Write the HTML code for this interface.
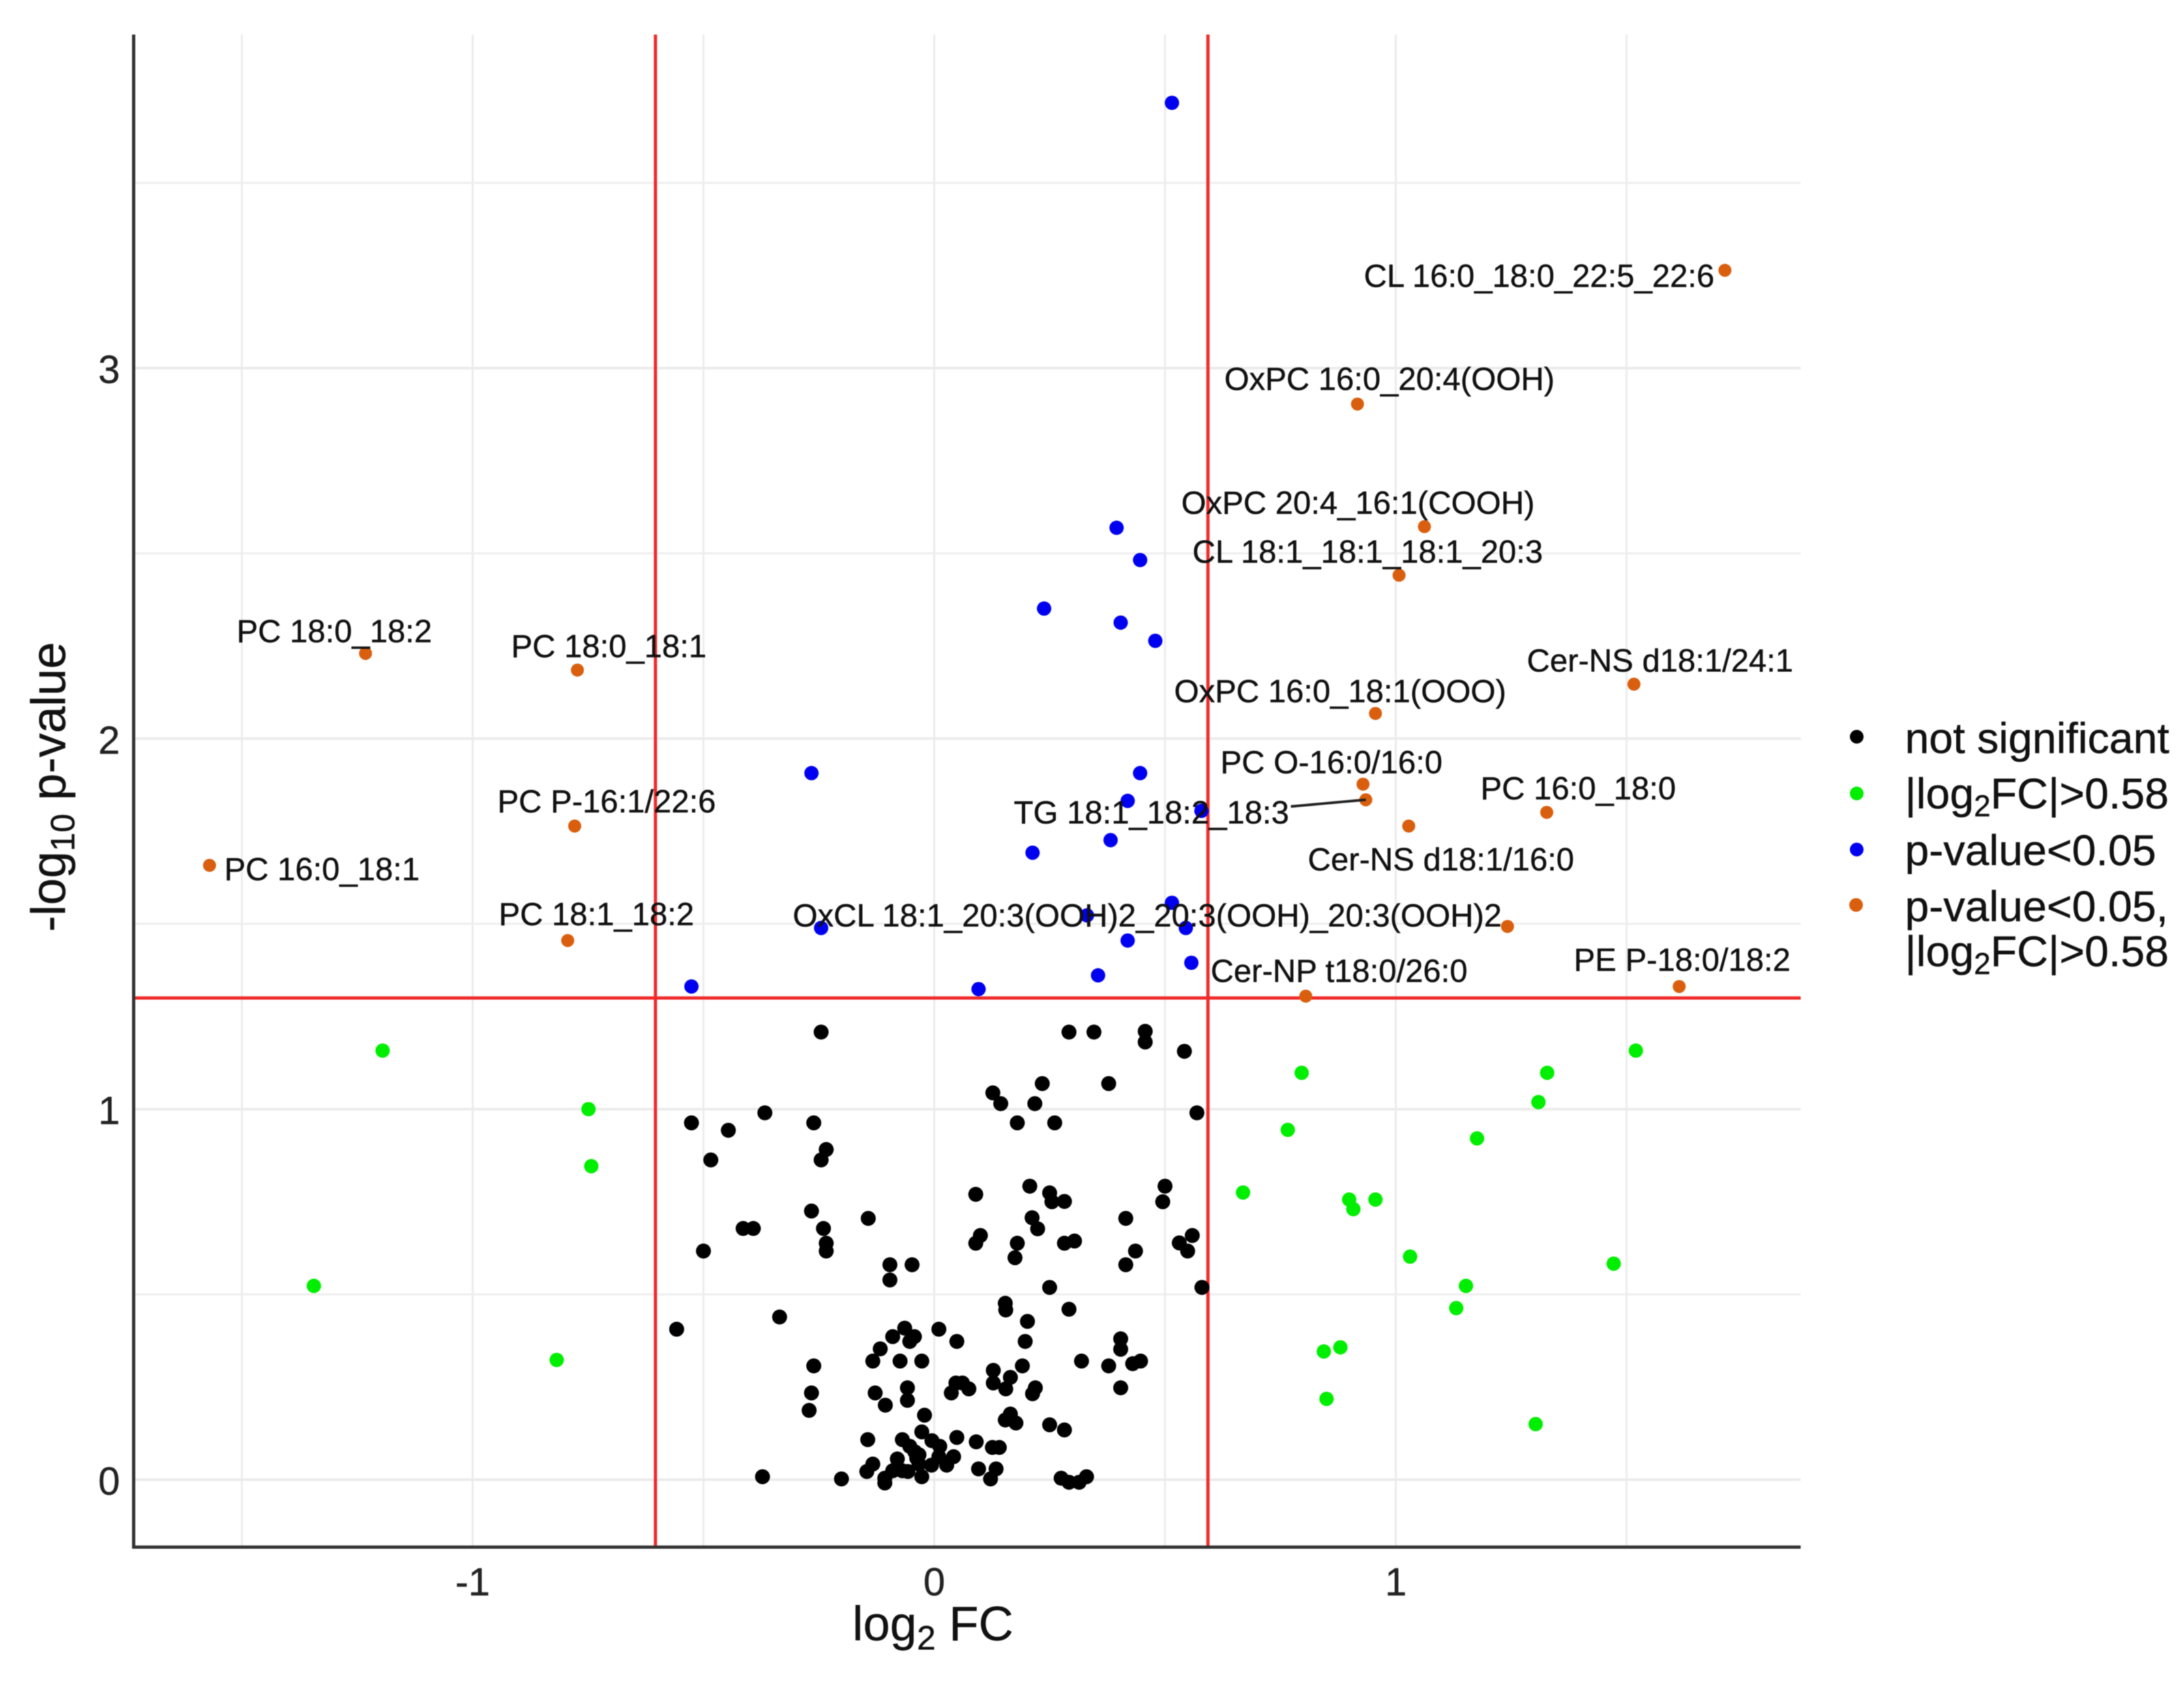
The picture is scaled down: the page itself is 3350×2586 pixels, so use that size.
<!DOCTYPE html>
<html lang="en">
<head>
<meta charset="utf-8">
<title>Volcano plot</title>
<style>
html,body{margin:0;padding:0;background:#fff;}
svg{display:block;font-family:"Liberation Sans",sans-serif;filter:blur(0.7px);}
.lbl{font-size:49px;fill:#111;stroke:#111;stroke-width:0.5px;}
.leg{font-size:66.3px;fill:#111;stroke:#111;stroke-width:0.5px;}
.tick{font-size:60px;fill:#222;stroke:#222;stroke-width:0.4px;}
.title{font-size:74px;fill:#111;stroke:#111;stroke-width:0.4px;}
</style>
</head>
<body>
<svg id="chart" xmlns="http://www.w3.org/2000/svg" width="3350" height="2586" viewBox="0 0 3350 2586">
  <rect x="0" y="0" width="3350" height="2586" fill="#fff"/>
  <g id="grid"></g>
  <g id="thresholds"></g>
  <g id="points"></g>
  <g id="connector"></g>
  <g id="labels">
    <text class="lbl" x="2092" y="440">CL 16:0_18:0_22:5_22:6</text>
    <text class="lbl" x="1878" y="598">OxPC 16:0_20:4(OOH)</text>
    <text class="lbl" x="1812" y="788">OxPC 20:4_16:1(COOH)</text>
    <text class="lbl" x="1829" y="863">CL 18:1_18:1_18:1_20:3</text>
    <text class="lbl" x="2342" y="1030">Cer-NS d18:1/24:1</text>
    <text class="lbl" x="1801" y="1077">OxPC 16:0_18:1(OOO)</text>
    <text class="lbl" x="1872" y="1186">PC O-16:0/16:0</text>
    <text class="lbl" x="2271" y="1226">PC 16:0_18:0</text>
    <text class="lbl" x="1555" y="1263">TG 18:1_18:2_18:3</text>
    <text class="lbl" x="2006" y="1335">Cer-NS d18:1/16:0</text>
    <text class="lbl" x="1216" y="1421">OxCL 18:1_20:3(OOH)2_20:3(OOH)_20:3(OOH)2</text>
    <text class="lbl" x="1857" y="1506">Cer-NP t18:0/26:0</text>
    <text class="lbl" x="2414" y="1489">PE P-18:0/18:2</text>
    <text class="lbl" x="363" y="985">PC 18:0_18:2</text>
    <text class="lbl" x="784" y="1008">PC 18:0_18:1</text>
    <text class="lbl" x="763" y="1246">PC P-16:1/22:6</text>
    <text class="lbl" x="344" y="1350">PC 16:0_18:1</text>
    <text class="lbl" x="765" y="1419">PC 18:1_18:2</text>
  </g>
  <g id="axes">
    <line x1="205" y1="53" x2="205" y2="2375" stroke="#333" stroke-width="5"/>
    <line x1="203" y1="2373" x2="2762" y2="2373" stroke="#333" stroke-width="5"/>
  </g>
  <g id="ticks"></g>
  <text class="title" x="1431" y="2516" text-anchor="middle">log<tspan font-size="52" dy="14">2</tspan><tspan dy="-14"> FC</tspan></text>
  <text class="title" transform="translate(100,1207) rotate(-90)" text-anchor="middle">-log<tspan font-size="52" dy="14">10</tspan><tspan dy="-14"> p-value</tspan></text>
  <g id="legend">
    <circle cx="2848" cy="1130" r="10.5" fill="#000"/>
    <text class="leg" x="2922" y="1155">not significant</text>
    <circle cx="2848" cy="1217" r="10.5" fill="#00ee00"/>
    <text class="leg" x="2922" y="1240">|log<tspan font-size="46" dy="12">2</tspan><tspan dy="-12">FC|&gt;0.58</tspan></text>
    <circle cx="2848" cy="1303" r="10.5" fill="#0000f0"/>
    <text class="leg" x="2922" y="1327">p-value&lt;0.05</text>
    <circle cx="2847" cy="1388" r="10.5" fill="#d95f0e"/>
    <text class="leg" x="2922" y="1413">p-value&lt;0.05,</text>
    <text class="leg" x="2922" y="1482">|log<tspan font-size="46" dy="12">2</tspan><tspan dy="-12">FC|&gt;0.58</tspan></text>
  </g>
</svg>
<script>
var xTickValues = [-1, 0, 1];
var xTickLabels = ['-1', '0', '1'];
var yTickValues = [0, 1, 2, 3];
var yTickLabels = ['0', '1', '2', '3'];
var xMinorGrid = [-1.5, -0.5, 0.5, 1.5];
var yMinorGrid = [0.5, 1.5, 2.5, 3.5];
var foldChangeCutoffs = [-0.604, 0.593];
var pValueCutoff = 1.3;

var blackX = [-0.245,0.292,0.346,0.457,0.457,0.542,0.234,0.378,0.127,0.144,0.218,0.569,-0.367,-0.526,-0.261,0.180,0.261,-0.446,-0.234,-0.245,-0.484,0.090,0.207,0.250,0.255,0.282,0.500,0.495,-0.266,-0.143,0.212,0.415,0.224,-0.414,-0.392,-0.240,0.100,0.090,0.180,0.282,0.304,0.559,0.531,0.436,0.549,-0.234,-0.234,-0.500,0.175,-0.096,-0.048,0.415,-0.096,0.250,0.580,0.154,0.155,0.292,0.202,-0.335,-0.558,-0.064,0.010,-0.090,-0.043,-0.053,0.049,0.197,-0.117,0.404,0.404,-0.133,-0.074,-0.027,0.319,-0.261,0.128,0.191,0.378,0.430,0.447,0.165,-0.058,0.047,0.061,0.075,0.128,0.155,0.219,0.213,0.404,-0.128,-0.266,0.037,-0.058,-0.106,-0.271,-0.021,0.165,0.154,0.177,0.250,0.282,-0.027,-0.144,-0.069,-0.005,0.049,0.012,0.091,0.126,0.141,-0.053,-0.042,0.042,-0.038,-0.080,0.010,-0.033,-0.133,-0.006,0.027,0.096,0.134,-0.146,-0.090,-0.069,-0.057,-0.107,-0.107,-0.027,-0.372,-0.201,0.122,0.275,0.292,0.314,0.330,-0.033];
var blackY = [1.208,1.208,1.208,1.210,1.181,1.156,1.069,1.069,1.044,1.015,1.015,0.990,0.990,0.963,0.963,0.963,0.963,0.943,0.891,0.863,0.863,0.770,0.792,0.774,0.750,0.751,0.792,0.750,0.725,0.705,0.707,0.705,0.677,0.678,0.678,0.678,0.659,0.638,0.638,0.638,0.644,0.659,0.639,0.617,0.617,0.638,0.617,0.617,0.599,0.580,0.580,0.580,0.539,0.519,0.519,0.476,0.458,0.460,0.427,0.439,0.406,0.409,0.406,0.386,0.386,0.373,0.373,0.373,0.353,0.380,0.352,0.320,0.320,0.320,0.320,0.307,0.295,0.307,0.307,0.313,0.320,0.276,0.248,0.261,0.261,0.245,0.261,0.245,0.248,0.232,0.248,0.234,0.234,0.234,0.214,0.201,0.187,0.174,0.177,0.161,0.153,0.148,0.134,0.129,0.108,0.108,0.105,0.114,0.090,0.102,0.087,0.087,0.090,0.075,0.062,0.058,0.056,0.062,0.042,0.042,0.039,0.039,0.029,0.029,0.022,0.024,0.024,0.022,0.004,-0.009,0.008,0.008,0.002,0.002,0.004,-0.007,-0.007,0.008,0.067];

var greenX = [-1.195,-0.749,-0.743,-1.344,-0.818,0.796,0.766,0.669,0.899,0.908,0.956,1.031,1.152,1.131,0.844,0.880,0.850,1.303,1.472,1.176,1.309,1.328,1.520];
var greenY = [1.158,1.000,0.846,0.523,0.323,1.098,0.944,0.775,0.756,0.730,0.756,0.602,0.523,0.463,0.346,0.357,0.218,0.150,0.583,0.921,1.019,1.098,1.158];

var blueX = [0.515,0.395,0.446,0.238,0.404,0.479,-0.266,0.446,0.419,0.579,0.382,0.213,-0.245,0.331,0.515,0.545,0.419,0.557,0.355,-0.526,0.096];
var blueY = [3.716,2.569,2.482,2.351,2.313,2.264,1.907,1.907,1.832,1.805,1.726,1.692,1.489,1.523,1.557,1.489,1.455,1.395,1.361,1.331,1.324];

var orangeX = [1.713,0.917,1.062,1.007,1.516,0.956,0.929,0.935,1.028,1.327,1.242,1.614,0.805,-1.232,-0.773,-0.779,-1.570,-0.794];
var orangeY = [3.264,2.903,2.572,2.441,2.147,2.068,1.877,1.835,1.764,1.801,1.493,1.331,1.305,2.230,2.185,1.764,1.658,1.455];

var NS = 'http://www.w3.org/2000/svg';
function xScale(v) { return 1433 + 708 * v; }
function yScale(v) { return 2269.5 - 568.3 * v; }
var plotLeft = 205, plotRight = 2762, plotTop = 53, plotBottom = 2373;
function make(tag) { return document.createElementNS(NS, tag); }
var gridG = document.getElementById('grid');
var threshG = document.getElementById('thresholds');
var pointsG = document.getElementById('points');
var connG = document.getElementById('connector');
var ticksG = document.getElementById('ticks');
function setLine(el, x1, y1, x2, y2, stroke, w) {
  el.setAttribute('x1', x1); el.setAttribute('y1', y1);
  el.setAttribute('x2', x2); el.setAttribute('y2', y2);
  el.setAttribute('stroke', stroke); el.setAttribute('stroke-width', w);
}
function setDot(el, xv, yv, r, fill) {
  el.setAttribute('cx', xScale(xv).toFixed(1));
  el.setAttribute('cy', yScale(yv).toFixed(1));
  el.setAttribute('r', r);
  el.setAttribute('fill', fill);
}

xMinorGrid.forEach(function (v) {
  var el = make('line');
  
  
  setLine(el, xScale(v), plotTop, xScale(v), plotBottom, '#ececec', 3);
  gridG.appendChild(el);
});
xTickValues.forEach(function (v) {
  var el = make('line');
  
  
  setLine(el, xScale(v), plotTop, xScale(v), plotBottom, '#ebebeb', 3);
  gridG.appendChild(el);
});
yMinorGrid.forEach(function (v) {
  var el = make('line');
  
  
  setLine(el, plotLeft, yScale(v), plotRight, yScale(v), '#eeeeee', 3);
  gridG.appendChild(el);
});
yTickValues.forEach(function (v) {
  var el = make('line');
  
  
  setLine(el, plotLeft, yScale(v), plotRight, yScale(v), '#ebebeb', 4);
  gridG.appendChild(el);
});

foldChangeCutoffs.forEach(function (v) {
  var el = make('line');
  
  
  setLine(el, xScale(v), plotTop, xScale(v), plotBottom, '#f02a2a', 5);
  threshG.appendChild(el);
});
var pLine = make('line');


setLine(pLine, plotLeft, yScale(pValueCutoff), plotRight, yScale(pValueCutoff), '#f02a2a', 5);
threshG.appendChild(pLine);

blackX.forEach(function (v, i) {
  var el = make('circle');
  
  
  setDot(el, v, blackY[i], 11.5, '#000');
  pointsG.appendChild(el);
});
greenX.forEach(function (v, i) {
  var el = make('circle');
  
  
  setDot(el, v, greenY[i], 11, '#00ee00');
  pointsG.appendChild(el);
});
blueX.forEach(function (v, i) {
  var el = make('circle');
  
  
  setDot(el, v, blueY[i], 11, '#0000f0');
  pointsG.appendChild(el);
});
orangeX.forEach(function (v, i) {
  var el = make('circle');
  
  
  setDot(el, v, orangeY[i], 10, '#d95f0e');
  pointsG.appendChild(el);
});

var tgLeader = make('line');


setLine(tgLeader, 1980, 1237, xScale(orangeX[7]), yScale(orangeY[7]), '#222', 4);
connG.appendChild(tgLeader);

xTickValues.forEach(function (v, i) {
  var el = make('text');
  
  
  el.setAttribute('class', 'tick');
  el.setAttribute('x', xScale(v));
  el.setAttribute('y', 2447);
  el.setAttribute('text-anchor', 'middle');
  el.textContent = xTickLabels[i];
  ticksG.appendChild(el);
});
yTickValues.forEach(function (v, i) {
  var el = make('text');
  
  
  el.setAttribute('class', 'tick');
  el.setAttribute('x', 184);
  el.setAttribute('y', yScale(v) + 23);
  el.setAttribute('text-anchor', 'end');
  el.textContent = yTickLabels[i];
  ticksG.appendChild(el);
});
</script>
</body>
</html>
